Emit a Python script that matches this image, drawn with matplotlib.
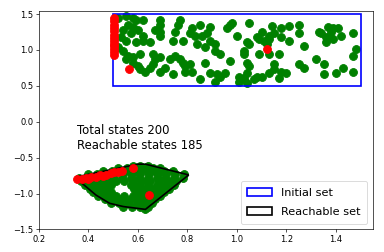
import matplotlib
matplotlib.use("Agg")
import matplotlib.pyplot as plt
from matplotlib.patches import Rectangle, Polygon

# initial states
init_green = [
    (0.52, 1.44), (0.55, 1.47), (0.58, 1.44), (0.59, 1.42), (0.62, 1.42),
    (0.56, 1.35), (0.58, 1.32), (0.54, 1.28), (0.60, 1.28), (0.62, 1.20),
    (0.57, 1.23), (0.53, 1.18), (0.55, 1.13), (0.59, 1.11), (0.62, 1.13),
    (0.65, 1.11), (0.52, 1.04), (0.54, 0.99), (0.56, 0.92), (0.58, 0.90),
    (0.61, 0.94), (0.55, 0.87), (0.58, 0.82), (0.60, 0.78), (0.63, 0.70),
    (0.61, 0.73), (0.66, 0.94), (0.67, 0.87), (0.69, 0.90), (0.66, 0.80),
    (0.71, 0.75), (0.69, 0.70), (0.73, 0.87), (0.65, 0.75), (0.69, 1.42),
    (0.69, 1.35), (0.69, 1.25), (0.67, 1.28), (0.69, 1.20), (0.74, 1.13),
    (0.77, 1.42), (0.76, 1.35), (0.75, 1.25), (0.78, 1.13), (0.75, 0.92),
    (0.77, 0.87), (0.78, 0.82), (0.79, 0.78), (0.81, 0.80), (0.79, 0.70),
    (0.74, 0.66), (0.81, 1.23), (0.82, 1.30), (0.83, 1.20), (0.84, 1.09),
    (0.85, 1.35), (0.86, 1.20), (0.89, 1.32), (0.88, 1.23), (0.89, 1.13),
    (0.87, 1.04), (0.91, 1.09), (0.91, 0.99), (0.93, 0.94), (0.87, 0.82),
    (0.89, 0.68), (0.92, 0.66), (0.91, 0.56), (0.93, 0.63), (0.95, 0.68),
    (0.85, 0.59), (0.82, 0.70), (0.97, 1.35), (0.96, 1.30), (0.98, 1.37),
    (1.00, 1.20), (0.97, 0.85), (1.01, 0.63), (1.01, 0.56), (1.03, 0.61),
    (1.04, 0.54), (1.05, 1.37), (1.04, 1.11), (1.05, 1.09), (1.03, 0.99),
    (1.03, 0.94), (1.04, 0.82), (1.05, 0.78), (1.04, 0.68), (1.08, 1.18),
    (1.10, 1.25), (1.09, 1.16), (1.11, 1.13), (1.13, 1.20), (1.13, 1.16),
    (1.12, 1.09), (1.14, 1.33), (1.15, 1.23), (1.18, 1.30), (1.18, 1.18),
    (1.21, 1.33), (1.21, 1.13), (1.25, 1.35), (1.25, 1.23), (1.27, 1.06),
    (1.09, 0.94), (1.13, 0.94), (1.17, 0.94), (1.15, 0.80), (1.15, 0.73),
    (1.18, 0.70), (1.13, 0.68), (1.10, 0.63), (1.08, 0.63), (1.07, 0.59),
    (1.20, 0.68), (1.17, 0.61), (1.25, 0.80), (1.27, 0.75), (1.32, 0.87),
    (1.35, 0.80), (1.35, 0.66), (1.40, 0.68), (1.43, 0.75), (1.47, 0.70),
    (1.33, 1.25), (1.34, 1.23), (1.37, 1.32), (1.38, 1.25), (1.39, 1.30),
    (1.36, 1.18), (1.36, 1.11), (1.39, 1.16), (1.41, 1.30), (1.42, 1.20),
    (1.47, 1.23), (1.48, 1.01), (1.47, 0.92),
]
init_red = [
    (0.503, 0.93), (0.503, 0.97), (0.503, 1.01), (0.503, 1.05), (0.503, 1.09),
    (0.503, 1.13), (0.503, 1.17), (0.503, 1.21), (0.503, 1.26), (0.503, 1.30),
    (0.503, 1.35), (0.503, 1.40), (0.503, 1.45), (0.564, 0.73), (1.121, 1.01),
]

# reachable states, row by row (y: list of x)
reach_rows = {
    -0.61: [0.58, 0.61, 0.64],
    -0.65: [0.52, 0.555, 0.59, 0.625, 0.66, 0.69],
    -0.69: [0.46, 0.495, 0.53, 0.565, 0.60, 0.635, 0.67, 0.705, 0.74],
    -0.73: [0.40, 0.435, 0.47, 0.505, 0.54, 0.575, 0.61, 0.645, 0.68, 0.715, 0.75, 0.785],
    -0.78: [0.36, 0.395, 0.43, 0.465, 0.50, 0.535, 0.57, 0.605, 0.64, 0.675, 0.71, 0.745, 0.78],
    -0.83: [0.37, 0.405, 0.44, 0.475, 0.51, 0.545, 0.58, 0.615, 0.65, 0.685, 0.72, 0.755],
    -0.88: [0.385, 0.42, 0.455, 0.49, 0.57, 0.605, 0.64, 0.675, 0.71, 0.745],
    -0.93: [0.405, 0.44, 0.475, 0.585, 0.62, 0.655, 0.69, 0.725],
    -0.98: [0.42, 0.455, 0.49, 0.60, 0.635, 0.67, 0.705],
    -1.03: [0.44, 0.475, 0.51, 0.545, 0.58, 0.615, 0.65, 0.69],
    -1.08: [0.465, 0.50, 0.535, 0.57, 0.605, 0.64, 0.67],
    -1.13: [0.49, 0.525, 0.56, 0.595, 0.63, 0.655],
    -1.18: [0.54, 0.575, 0.61, 0.64],
    -1.22: [0.63],
}
reach_red = [
    (0.355, -0.79), (0.375, -0.80), (0.39, -0.78), (0.40, -0.80), (0.41, -0.765),
    (0.43, -0.77), (0.445, -0.745), (0.46, -0.76), (0.47, -0.735), (0.49, -0.72),
    (0.505, -0.705), (0.52, -0.70), (0.535, -0.69), (0.578, -0.65), (0.645, -1.02),
]
hull = [
    (0.347, -0.77), (0.60, -0.59), (0.63, -0.59), (0.805, -0.74), (0.63, -1.22),
    (0.54, -1.18), (0.485, -1.135), (0.43, -1.02), (0.375, -0.86),
]
init_box = (0.5, 0.5, 1.0, 1.0)
total_states = 200
reachable_states = 185

reach_green = [(x, y) for y, xs in reach_rows.items() for x in xs]

fig = plt.figure(figsize=(6.4, 4.2), dpi=60)
ax = fig.add_axes([0.1016, 0.0893, 0.8698, 0.869])

for pts in (init_green, reach_green):
    ax.plot([p[0] for p in pts], [p[1] for p in pts], 'o', color='green',
            markersize=9.5, zorder=2)

rect = Rectangle(init_box[:2], init_box[2], init_box[3], fill=False,
                 edgecolor='blue', linewidth=2, label='Initial set', zorder=3)
poly = Polygon(hull, closed=True, fill=False, edgecolor='black',
               linewidth=2, label='Reachable set', zorder=3)
ax.add_patch(rect)
ax.add_patch(poly)

for pts in (init_red, reach_red):
    ax.plot([p[0] for p in pts], [p[1] for p in pts], 'o', color='red',
            markersize=9.5, zorder=4)

ax.text(0.355, -0.23, "Total states %d\nReachable states %d" % (total_states, reachable_states),
        fontsize=14, va='center', ha='left')

ax.set_xlim(0.2, 1.55)
ax.set_ylim(-1.5, 1.55)
ax.legend(handles=[rect, poly], loc='lower right', fontsize=13.5,
          labelspacing=0.85, borderpad=0.6, handlelength=2.2)

fig.savefig("out.png", dpi=60)
